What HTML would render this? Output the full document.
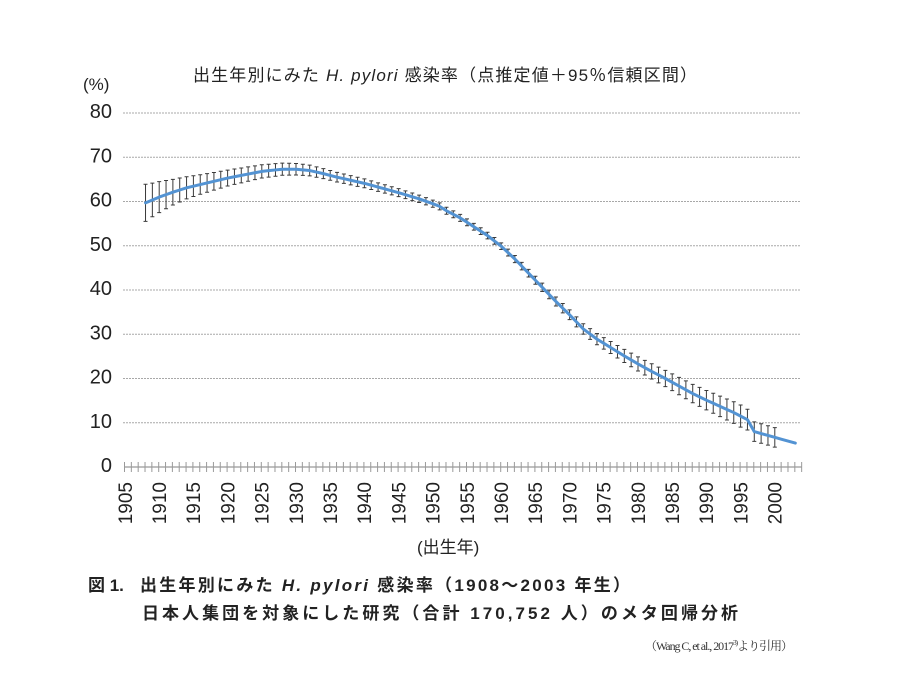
<!DOCTYPE html>
<html>
<head>
<meta charset="utf-8">
<style>
html,body{margin:0;padding:0;background:#fff;}
body{width:900px;height:700px;overflow:hidden;}
svg{display:block;}
.jp{font-family:"Liberation Sans","Noto Sans CJK JP",sans-serif;}
.ser{font-family:"Liberation Serif","Noto Serif CJK SC",serif;}
</style>
</head>
<body>
<svg id="chart" width="900" height="700" viewBox="0 0 900 700" xmlns="http://www.w3.org/2000/svg">
  <rect x="0" y="0" width="900" height="700" fill="#fff"/>
  <!-- title -->
  <text class="jp" x="193" y="81" font-size="17" fill="#222" textLength="504" lengthAdjust="spacing">出生年別にみた <tspan font-style="italic">H. pylori</tspan> 感染率（点推定値＋95％信頼区間）</text>
  <text class="jp" x="83" y="90" font-size="17" fill="#222">(%)</text>

  <g id="grid" stroke="#a8a8a8" stroke-width="1" stroke-dasharray="2,1"></g>
  <g id="ylabels" class="jp" font-size="20" fill="#222" text-anchor="end"></g>
  <g id="axis"></g>
  <g id="xlabels" class="jp" font-size="19" fill="#222"></g>
  <g id="bars" stroke="#3a3a3a" stroke-width="1" fill="none"></g>
  <path id="line" fill="none" stroke="#5393d3" stroke-width="3" stroke-linejoin="round" stroke-linecap="round"/>

  <text class="jp" x="417" y="553" font-size="17" fill="#222">(出生年)</text>

  <!-- caption -->
  <text class="jp" x="88" y="591" font-size="17" font-weight="600" fill="#222">図 1.</text>
  <text class="jp" x="140" y="591" font-size="17" font-weight="600" fill="#222" textLength="490" lengthAdjust="spacing">出生年別にみた <tspan font-style="italic">H. pylori</tspan> 感染率（1908～2003 年生）</text>
  <text class="jp" x="142" y="619" font-size="17" font-weight="600" fill="#222" textLength="596" lengthAdjust="spacing">日本人集団を対象にした研究（合計 170,752 人）のメタ回帰分析</text>
  <text class="ser" x="645" y="650" font-size="12" fill="#333" textLength="148" lengthAdjust="spacing">（Wang C, et al., 2017<tspan font-size="7.5" dy="-5">3)</tspan><tspan dy="5">より引用）</tspan></text>
</svg>
<script>
(function(){
  var NS="http://www.w3.org/2000/svg";
  function el(tag,attrs,parent,txt){var e=document.createElementNS(NS,tag);for(var k in attrs)e.setAttribute(k,attrs[k]);if(txt!==undefined)e.textContent=txt;parent.appendChild(e);return e;}
  var y0=467, sy=4.425, x0=125, sx=6.84;
  function X(yr){return x0+(yr-1905)*sx;}
  function Y(v){return y0-v*sy;}
  var grid=document.getElementById('grid'), yl=document.getElementById('ylabels');
  for(var v=10;v<=80;v+=10){
    var gy=Y(v);
    el('line',{x1:123,y1:gy,x2:801,y2:gy},grid);
  }
  for(var v=0;v<=80;v+=10){
    el('text',{x:112,y:Y(v)+5},yl,String(v));
  }
  var axis=document.getElementById('axis');
  el('line',{x1:124,y1:y0,x2:802,y2:y0,stroke:'#999','stroke-width':1.2},axis);
  for(var k=0;k<=99;k++){
    var tx=124.5+k*sx;
    el('line',{x1:tx,y1:y0-5,x2:tx,y2:y0+5,stroke:'#9a9a9a','stroke-width':1},axis);
  }
  var xl=document.getElementById('xlabels');
  for(var yr=1905;yr<=2000;yr+=5){
    var px=X(yr)+6.8, py=482;
    el('text',{x:px,y:py,'text-anchor':'end',transform:'rotate(-90 '+px+' '+py+')'},xl,String(yr));
  }
  var kp=[[1908,59.7],[1910,61.0],[1912,62.1],[1914,63.1],[1917,64.2],[1920,65.3],[1922,65.9],[1925,66.8],[1928,67.3],[1930,67.3],[1932,67.0],[1934,66.3],[1936,65.5],[1940,64.1],[1945,62.0],[1948,60.6],[1950,59.5],[1951,58.9],[1952,57.9],[1954,56.3],[1956,54.3],[1958,52.3],[1960,49.9],[1962,47.0],[1964,43.8],[1966,40.6],[1968,37.4],[1970,34.4],[1972,31.2],[1974,28.9],[1976,27.0],[1978,25.1],[1980,23.3],[1982,21.6],[1984,20.0],[1986,18.3],[1988,16.6],[1990,15.1],[1992,13.7],[1994,12.3],[1996,10.7],[1997,8.0],[2000,6.7],[2003,5.4]];
  var ek=[[1908,4.2],[1909,3.8],[1910,3.5],[1911,3.2],[1912,2.9],[1914,2.5],[1916,2.2],[1918,2.0],[1920,1.8],[1925,1.5],[1930,1.3],[1935,1.1],[1940,1.0],[1950,0.8],[1960,0.75],[1965,0.9],[1970,1.1],[1975,1.3],[1980,1.6],[1985,1.9],[1990,2.2],[1995,2.5],[1997,2.2],[2000,2.2]];
  function interp(arr,t){
    if(t<=arr[0][0])return arr[0][1];
    for(var i=1;i<arr.length;i++){
      if(t<=arr[i][0]){var a=arr[i-1],b=arr[i];return a[1]+(b[1]-a[1])*(t-a[0])/(b[0]-a[0]);}
    }
    return arr[arr.length-1][1];
  }
  var bars=document.getElementById('bars');
  var d='';
  for(var yr=1908;yr<=2003;yr++){
    var v=interp(kp,yr), px=X(yr), py=Y(v);
    d+=(yr===1908?'M':'L')+px.toFixed(2)+' '+py.toFixed(2)+' ';
    if(yr<=2000){
      var e=interp(ek,yr), t=Y(v+e), b=Y(v-e);
      el('path',{d:'M'+px+' '+t+'V'+b+'M'+(px-2)+' '+t+'H'+(px+2)+'M'+(px-2)+' '+b+'H'+(px+2)},bars);
    }
  }
  document.getElementById('line').setAttribute('d',d);
})();
</script>
</body>
</html>
